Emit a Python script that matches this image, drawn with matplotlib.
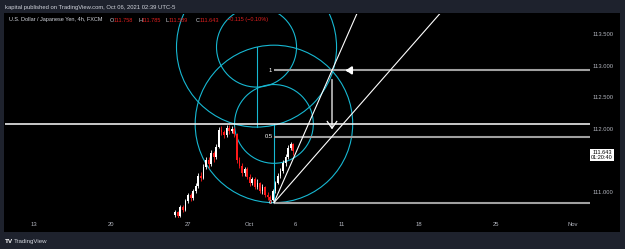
import matplotlib
matplotlib.use('Agg')
import matplotlib.pyplot as plt
import numpy as np
from matplotlib.patches import Ellipse, Rectangle

plt.rcParams['font.family'] = ['Liberation Sans', 'DejaVu Sans']

# 4h USDJPY candles (x in trading days counted from Sep 13)
bar_start = 9.17
opens = [110.64, 110.68, 110.62, 110.76, 110.72, 110.86, 110.95, 110.90, 111.02, 111.10,
         111.26, 111.22, 111.40, 111.50, 111.45, 111.62, 111.55, 111.72, 111.98, 111.95,
         111.90, 112.02, 111.96, 112.00, 111.92, 111.50, 111.42, 111.30, 111.36, 111.24,
         111.15, 111.20, 111.08, 111.14, 111.02, 111.08, 110.96, 110.92, 110.88, 111.02,
         111.15, 111.26, 111.34, 111.46, 111.55, 111.70, 111.758]
closes = [110.68, 110.62, 110.76, 110.72, 110.86, 110.95, 110.90, 111.02, 111.10, 111.26,
          111.22, 111.40, 111.50, 111.45, 111.62, 111.55, 111.72, 111.98, 111.95, 111.90,
          112.02, 111.96, 112.00, 111.92, 111.50, 111.42, 111.30, 111.36, 111.24, 111.15,
          111.20, 111.08, 111.14, 111.02, 111.08, 110.96, 110.92, 110.88, 111.02, 111.15,
          111.26, 111.34, 111.46, 111.55, 111.70, 111.76, 111.643]
highs = [110.71, 110.70, 110.79, 110.80, 110.89, 110.99, 110.98, 111.05, 111.14, 111.30,
         111.31, 111.44, 111.55, 111.56, 111.66, 111.65, 111.76, 112.03, 112.05, 111.99,
         112.07, 112.06, 112.05, 112.03, 111.94, 111.56, 111.46, 111.40, 111.39, 111.28,
         111.24, 111.23, 111.20, 111.16, 111.12, 111.10, 111.00, 110.95, 111.05, 111.18,
         111.30, 111.38, 111.50, 111.60, 111.74, 111.80, 111.785]
lows = [110.60, 110.59, 110.60, 110.68, 110.70, 110.83, 110.86, 110.88, 110.99, 111.07,
        111.18, 111.20, 111.37, 111.38, 111.42, 111.48, 111.52, 111.70, 111.90, 111.85,
        111.88, 111.92, 111.93, 111.88, 111.46, 111.38, 111.26, 111.25, 111.20, 111.10,
        111.11, 111.04, 111.05, 110.98, 110.97, 110.92, 110.88, 110.83, 110.85, 110.99,
        111.12, 111.22, 111.30, 111.42, 111.52, 111.66, 111.589]

xtick_pos = [0, 5, 10, 14, 17, 20, 25, 30, 35]
xtick_lab = ['13', '20', '27', 'Oct', '6', '11', '18', '25', 'Nov']
ytick_pos = [111.0, 112.0, 112.5, 113.0, 113.5]

# drawings
hline_price = 112.08
fib_x0, fib_x1 = 15.58, 19.35
fib_lo, fib_hi = 110.83, 112.93
fib_levels = [0, 0.5, 1]
fan_levels = [1, 0.5]
circ_upper = (14.45, 113.30)
circ_lower = (15.58, 112.08)
radii_upper = [0.635, 1.27]
radii_lower = [0.625, 1.25]

W, H = 625, 249
fig = plt.figure(figsize=(6.25, 2.49), dpi=100, facecolor='#1e222d')

def fr(x, y):
    return x / W, 1 - y / H

# black panel
fig.patches.append(Rectangle(fr(4, 232), 616 / W, 219 / H, transform=fig.transFigure,
                             facecolor='black', edgecolor='none', zorder=-5))

x0, y0 = fr(5, 218)
ax = fig.add_axes([x0, y0, 585 / W, 204 / H])
ax.set_facecolor('black')
for s in ax.spines.values():
    s.set_visible(False)
ax.set_xlim(-1.88, 36.1)
ax.set_ylim(110.587, 113.825)
kx = 63.0 / 15.4  # days per price unit so the circles come out round

cyan = '#17b8d2'
# fib circles
for (cx, cy), rr in [(circ_upper, radii_upper), (circ_lower, radii_lower)]:
    for r in rr:
        ax.add_patch(Ellipse((cx, cy), 2 * r * kx, 2 * r, fill=False, ec=cyan, lw=0.8))
ax.plot([circ_upper[0]] * 2, [circ_upper[1], circ_upper[1] - radii_upper[1]], color=cyan, lw=0.8)
ax.plot([circ_lower[0]] * 2, [circ_lower[1], circ_lower[1] - radii_lower[1]], color=cyan, lw=0.8)

# horizontal white line
ax.axhline(hline_price, color='white', lw=1.1)

# fib levels
for k in fib_levels:
    p = fib_lo + k * (fib_hi - fib_lo)
    ax.plot([fib_x0, 36.1], [p, p], color='#a0a0a0', lw=1.5, solid_capstyle='butt')
    ax.text(fib_x0 - 0.1, p, '%g' % k, color='white', fontsize=4.2, ha='right', va='center')

# fan lines
for k in fan_levels:
    p = fib_lo + k * (fib_hi - fib_lo)
    dx, dy = fib_x1 - fib_x0, p - fib_lo
    ax.plot([fib_x0, fib_x0 + 10 * dx], [fib_lo, fib_lo + 10 * dy], color='white', lw=0.8)

# candles
t = bar_start + np.arange(len(closes)) / 6.0
o = np.array(opens); c = np.array(closes)
cols = np.where(c >= o, 'white', '#ff1a1a')
ax.vlines(t, lows, highs, colors=cols, lw=0.6)
ax.bar(t, np.maximum(np.abs(c - o), 0.01), 0.11, bottom=np.minimum(o, c), color=cols, lw=0)

# arrows
ax.annotate('', xy=(fib_x1, 111.95), xytext=(fib_x1, 112.83),
            arrowprops=dict(arrowstyle='->,head_length=0.5,head_width=0.35', color='white', lw=0.9))
ax.annotate('', xy=(20.06, fib_hi), xytext=(20.62, fib_hi),
            arrowprops=dict(arrowstyle='-|>,head_length=0.32,head_width=0.22', color='white', lw=1.5))

ax.set_xticks(xtick_pos)
ax.set_xticklabels(xtick_lab)
ax.set_yticks(ytick_pos)
ax.set_yticklabels(['%.3f' % v for v in ytick_pos])
ax.yaxis.tick_right()
ax.tick_params(length=0, colors='#b2b5be', labelsize=4.2)
ax.tick_params(axis='y', pad=1.5)
ax.tick_params(axis='x', pad=3)

# last price label
fig.text(*fr(602, 155), '111.643\n01:20:40', fontsize=4.0, color='black', ha='center', va='center',
         linespacing=1.0, bbox=dict(boxstyle='square,pad=0.25', fc='white', ec='none'))

# header / legend
fig.text(*fr(5, 7), 'kapital published on TradingView.com, Oct 06, 2021 02:39 UTC-5',
         fontsize=4.2, color='#d1d4dc', va='center')
leg = [(9, 'U.S. Dollar / Japanese Yen, 4h, FXCM', '#d1d4dc'),
       (110, 'O', '#d1d4dc'), (113.5, '111.758', '#e01f1f'),
       (138.5, 'H', '#d1d4dc'), (142, '111.785', '#e01f1f'),
       (166, 'L', '#d1d4dc'), (169, '111.589', '#e01f1f'),
       (196, 'C', '#d1d4dc'), (200, '111.643', '#e01f1f'),
       (227, '\u22120.115 (\u22120.10%)', '#e01f1f')]
for x, s, col in leg:
    fig.text(*fr(x, 20), s, fontsize=4.0, color=col, va='center')

# footer
fig.text(*fr(5, 241), 'TV', fontsize=4.6, color='white', fontweight='bold', va='center')
fig.text(*fr(14, 241), 'TradingView', fontsize=4.4, color='#d1d4dc', va='center')

fig.savefig('out.png', dpi=100, facecolor=fig.get_facecolor())
